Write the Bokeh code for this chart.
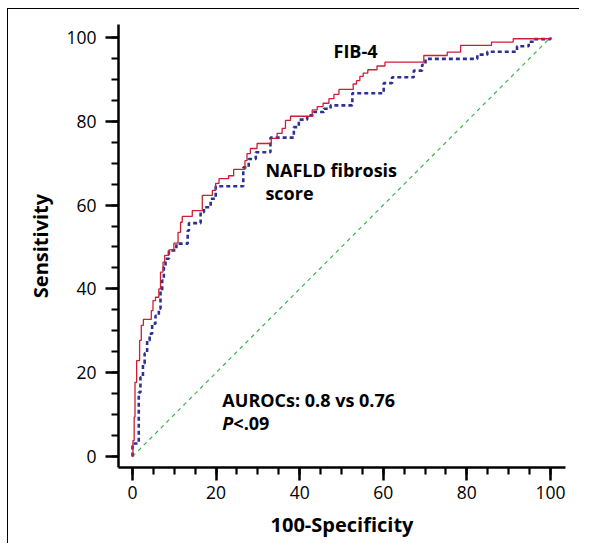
from bokeh.plotting import figure
from bokeh.models import Range1d, FixedTicker, Label
from bokeh.embed import file_html
from bokeh.resources import INLINE

# FIB-4 ROC curve (100-Specificity, Sensitivity) step vertices
fib4_fpr = [0, 0.1, 0.4, 0.6, 1.0, 1.7, 2.1, 2.6, 4.5, 4.9, 5.5, 6.3, 6.7, 7.3, 7.7, 8.7,
            9.9, 10.9, 11.5, 11.9, 14.3, 16.7, 19.1, 19.9, 20.7, 23.0, 24.2, 26.9, 27.4,
            28.2, 29.8, 33.2, 34.6, 35.8, 36.6, 37.8, 43.0, 44.2, 45.6, 47.0, 48.2, 49.4,
            52.8, 53.6, 54.4, 55.2, 56.3, 58.5, 60.4, 69.7, 75.3, 78.5, 85.9, 91.1, 100]
fib4_tpr = [0, 3.8, 9.4, 17.7, 22.9, 27.7, 31.3, 32.7, 34.8, 37.2, 38, 40, 44, 46.4, 48, 49.3,
            50.9, 53.5, 55.9, 57.3, 58.7, 62.3, 63.5, 65.2, 66.3, 67, 68.5, 70.6, 72.3,
            73.5, 74.7, 75.9, 77.1, 78.3, 80.2, 81.2, 82.7, 83.5, 84.3, 85.4, 86.4, 87.6,
            88.9, 89.7, 90.7, 91.5, 92.3, 93.2, 94.1, 95.7, 96.5, 98.1, 98.9, 99.7, 100]

# NAFLD fibrosis score ROC curve
nfs_fpr = [0, 0, 1.5, 1.9, 2.5, 2.9, 3.5, 4.1, 4.7, 5.5, 6.3, 6.7, 7.1, 7.5, 7.9, 8.7,
           10.5, 13.2, 13.5, 16.3, 17.1, 18.7, 19.9, 26.5, 27.8, 29.5, 33.0, 38.6, 39.8,
           41.8, 43.4, 45.8, 47.4, 52.6, 60.1, 62.1, 67.3, 69.3, 70.1, 82.5, 84.9, 92.0,
           94.8, 96.0, 100]
nfs_tpr = [0, 3.1, 15.3, 18.9, 22.2, 24.6, 27.7, 29.3, 31.7, 33.6, 35.3, 39.6, 42, 45.2,
           47.2, 49.2, 50.8, 53.9, 55.7, 58.3, 59.5, 61.5, 64.5, 69.0, 71.0, 72.6, 76.1,
           78.6, 80.4, 81.4, 82.2, 83.0, 83.8, 86.7, 89.1, 90.5, 92.1, 93.5, 94.9, 95.9,
           96.6, 97.9, 99.0, 99.6, 100]

# reference diagonal
diag = [0, 100]

tick_values = [0, 20, 40, 60, 80, 100]
minor_values = list(range(0, 101, 5))

FONT = "Open Sans"

p = figure(width=572, height=535, output_backend="svg", toolbar_location=None,
           x_range=Range1d(-3.35, 103.6), y_range=Range1d(-2.63, 103.1),
           min_border_left=110, min_border_top=15, min_border_right=15, min_border_bottom=77)
p.styles = {"border-left": "1px solid #000", "border-top": "1px solid #000",
            "margin-left": "7px", "margin-top": "8px"}
p.outline_line_color = None
p.xgrid.visible = False
p.ygrid.visible = False
p.background_fill_color = "white"
p.border_fill_color = "white"

p.line(diag, diag, line_color="#3cb44b", line_width=1.2, line_dash="4 4")
p.step(nfs_fpr, nfs_tpr, mode="after", line_color="#2e3192", line_width=2.6, line_dash="4 3")
p.step(fib4_fpr, fib4_tpr, mode="after", line_color="#cc1f36", line_width=1.3)

for ax in (p.xaxis[0], p.yaxis[0]):
    ax.ticker = FixedTicker(ticks=tick_values, minor_ticks=minor_values)
    ax.axis_line_width = 2.5
    ax.axis_line_color = "black"
    ax.major_tick_line_width = 2.5
    ax.minor_tick_line_width = 2.2
    ax.major_tick_in = 0
    ax.minor_tick_in = 0
    ax.major_tick_out = 13
    ax.minor_tick_out = 7
    ax.major_label_text_font = FONT
    ax.major_label_text_font_size = "17.5px"
    ax.major_label_text_color = "black"
    ax.axis_label_text_font = FONT
    ax.axis_label_text_font_size = "20px"
    ax.axis_label_text_font_style = "bold"
    ax.axis_label_text_color = "black"

p.xaxis.axis_label = "100-Specificity"
p.yaxis.axis_label = "Sensitivity"
p.xaxis.major_label_standoff = 5
p.yaxis.major_label_standoff = 9
p.xaxis.axis_label_standoff = 9
p.yaxis.axis_label_standoff = 9

def lab(x, y, t, style="bold", xo=0):
    p.add_layout(Label(x=x, y=y, text=t, x_offset=xo, y_offset=7, text_font=FONT,
                       text_font_size="18px", text_font_style=style, text_color="black",
                       text_baseline="alphabetic", text_align="left"))

lab(48.1, 95.1, "FIB-4")
lab(31.8, 66.8, "NAFLD fibrosis")
lab(31.8, 61.1, "score")
lab(21.5, 11.9, "AUROCs: 0.8 vs 0.76")
lab(21.5, 6.4, "P", style="bold italic")
lab(21.5, 6.4, "<.09", xo=11)

open("out.html", "w").write(file_html(p, INLINE))
